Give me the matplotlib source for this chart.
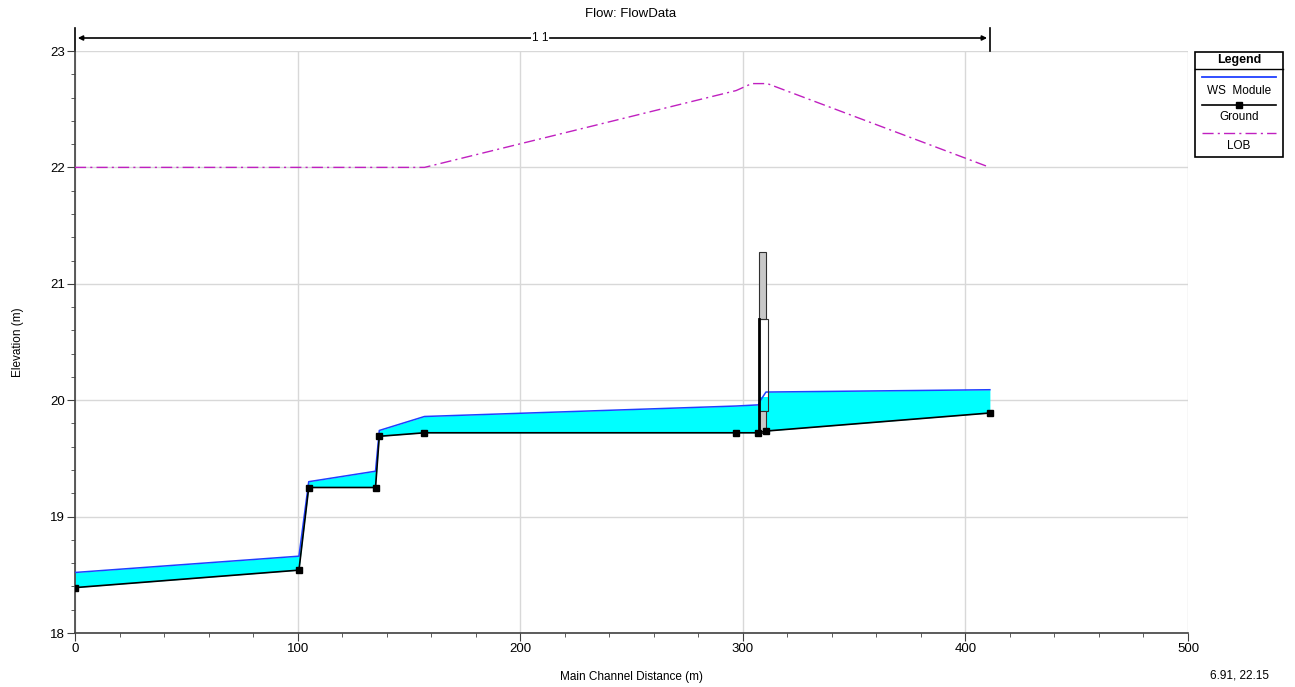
import matplotlib
matplotlib.use("Agg")
import matplotlib.pyplot as plt
from matplotlib.patches import Rectangle
from matplotlib.lines import Line2D
from matplotlib.ticker import MultipleLocator
import numpy as np

plt.rcParams['font.family'] = ['Liberation Sans', 'DejaVu Sans']

# ---- data ----
station = [0, 100.6, 105.0, 135.0, 136.7, 157.0, 297.0, 307.0, 310.4, 411.0]
ground = [18.39, 18.54, 19.25, 19.25, 19.69, 19.72, 19.72, 19.72, 19.735, 19.89]
ws_x = [0, 100.6, 105.0, 135.0, 136.7, 157.0, 297.0, 307.0, 308.0, 310.4, 411.0]
ws = [18.52, 18.66, 19.30, 19.39, 19.74, 19.86, 19.95, 19.96, 20.00, 20.07, 20.09]
lob_x = [0, 157.0, 297.0, 304.0, 311.0, 411.0]
lob = [22.0, 22.0, 22.66, 22.72, 22.72, 22.0]
bridge_x = [307.3, 310.3]
bridge_low_chord = 20.70
bridge_high_chord = 21.27
bridge_box_bottom = 19.91
bridge_box_right = 311.2

fig = plt.figure(figsize=(12.95, 6.87), dpi=100)
ax = fig.add_axes([75/1295, 1-633/687, (1188-75)/1295, (633-51)/687])

# water fill
gx = np.interp(ws_x, station, ground)
ax.fill_between(ws_x, gx, ws, color='#00FFFF', zorder=2, linewidth=0)
ax.plot(ws_x, ws, color='#2040FF', lw=1.1, zorder=5)

# bridge
bx0, bx1 = bridge_x
ax.add_patch(Rectangle((bx0, bridge_low_chord), bx1-bx0, bridge_high_chord-bridge_low_chord,
                       facecolor='#C8C8C8', edgecolor='#303030', lw=0.8, zorder=6))
ws_bridge = np.interp((bx0+bx1)/2, ws_x, ws)
ax.add_patch(Rectangle((bx0, bridge_box_bottom), bridge_box_right-bx0, bridge_low_chord-bridge_box_bottom,
                       facecolor='white', edgecolor='none', zorder=3))
ax.add_patch(Rectangle((bx0, bridge_box_bottom), bridge_box_right-bx0, ws_bridge-bridge_box_bottom,
                       facecolor='#00FFFF', edgecolor='none', zorder=3.5))
ax.add_patch(Rectangle((bx0, bridge_box_bottom), bridge_box_right-bx0, bridge_low_chord-bridge_box_bottom,
                       facecolor='none', edgecolor='#303030', lw=0.8, zorder=6))
gb = np.interp(bx0, station, ground)
ax.add_patch(Rectangle((bx0, gb), bx1-bx0, bridge_box_bottom-gb,
                       facecolor='#C8C8C8', edgecolor='#303030', lw=0.8, zorder=6))
ax.plot([bx0, bx0], [gb, bridge_low_chord], color='black', lw=2, zorder=7)

# ground
ax.plot(station, ground, color='black', lw=1.2, marker='s', ms=4.8, zorder=8)
# LOB
ax.plot(lob_x, lob, color='#C020C0', lw=1.0, linestyle=(0, (8, 3, 1.5, 3)), zorder=4)

ax.set_xlim(0, 500)
ax.set_ylim(18, 23)
ax.xaxis.set_major_locator(MultipleLocator(100))
ax.xaxis.set_minor_locator(MultipleLocator(20))
ax.yaxis.set_major_locator(MultipleLocator(1))
ax.yaxis.set_minor_locator(MultipleLocator(0.2))
ax.grid(True, which='major', color='#D8D8D8', lw=1.0, zorder=0)
ax.set_axisbelow(True)
for s in ['top', 'right']:
    ax.spines[s].set_visible(False)
for s in ['left', 'bottom']:
    ax.spines[s].set_color('#404040')
    ax.spines[s].set_linewidth(1.2)
ax.tick_params(which='major', length=6, labelsize=9.5, color='#404040', pad=1)
ax.tick_params(which='minor', length=3, color='#404040')
ax.set_xlabel('Main Channel Distance (m)', fontsize=8.5, labelpad=12)
ax.set_ylabel('Elevation (m)', fontsize=8.5, labelpad=19)

# title and reach annotation
fig.text(631/1295, 1-14/687, 'Flow: FlowData', ha='center', va='center', fontsize=9.5)
ytop = 23.0 + (51-38)/116.4
ax.annotate('', xy=(0, ytop), xytext=(206, ytop), xycoords='data',
            arrowprops=dict(arrowstyle='-|>', color='black', lw=1.2, mutation_scale=7), annotation_clip=False)
ax.annotate('', xy=(411, ytop), xytext=(212, ytop), xycoords='data',
            arrowprops=dict(arrowstyle='-|>', color='black', lw=1.2, mutation_scale=7), annotation_clip=False)
ax.text(209, ytop, '1 1', ha='center', va='center', fontsize=8.5, clip_on=False,
        bbox=dict(facecolor='white', edgecolor='none', pad=0.5))
for xv in [0, 411]:
    ax.plot([xv, xv], [23.0, 23.0 + (51-28)/116.4], color='black', lw=1.2, clip_on=False)

# coordinate readout
fig.text(1240/1295, 1-676/687, '6.91, 22.15', ha='center', va='center', fontsize=8.5)

# manual legend box
L, R, T, B = 1195/1295, 1283/1295, 1-52/687, 1-157/687
fig.patches.append(Rectangle((L, B), R-L, T-B, transform=fig.transFigure,
                             facecolor='white', edgecolor='black', lw=1.2))
sep = 1-69/687
fig.lines.append(Line2D([L, R], [sep, sep], transform=fig.transFigure, color='black', lw=1))
cx = (L+R)/2
fig.text(cx, 1-60/687, 'Legend', ha='center', va='center', fontsize=9, fontweight='bold')
x0, x1 = 1202/1295, 1276/1295
fig.lines.append(Line2D([x0, x1], [1-77/687]*2, transform=fig.transFigure, color='#2040FF', lw=1.3))
fig.text(cx, 1-91/687, 'WS  Module', ha='center', va='center', fontsize=8.5)
fig.lines.append(Line2D([x0, x1], [1-105/687]*2, transform=fig.transFigure, color='black', lw=1.2))
fig.lines.append(Line2D([cx], [1-105/687], transform=fig.transFigure, color='black', marker='s', ms=5))
fig.text(cx, 1-117/687, 'Ground', ha='center', va='center', fontsize=8.5)
fig.lines.append(Line2D([x0, x1], [1-133/687]*2, transform=fig.transFigure, color='#C020C0', lw=1.0,
                        linestyle=(0, (8, 3, 1.5, 3))))
fig.text(cx, 1-146/687, 'LOB', ha='center', va='center', fontsize=8.5)

fig.savefig('out.png', dpi=100)
